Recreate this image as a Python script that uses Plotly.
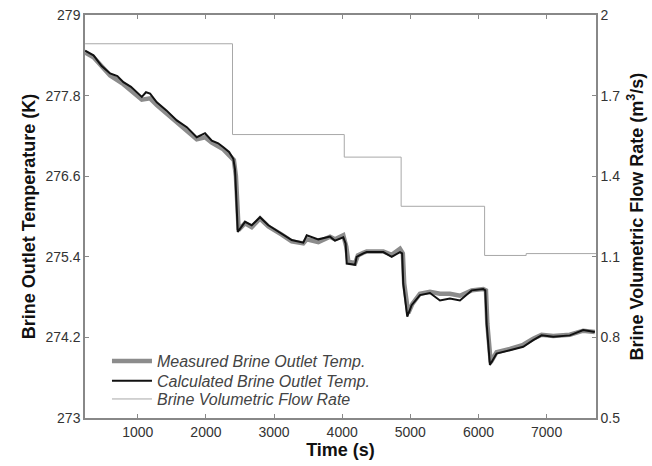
import plotly.graph_objects as go

# Time (s) and temperatures (K)
time_calc = [227, 290, 350, 470, 594, 700, 789, 900, 1059, 1120, 1180, 1279, 1420, 1572, 1720,
             1865, 1987, 2086, 2180, 2256, 2340, 2402, 2427,
             2467, 2574, 2672, 2794, 2916, 3112, 3259, 3429, 3479, 3649, 3821, 3894, 4016,
             4050, 4066, 4188, 4212, 4310, 4359, 4603, 4726, 4848, 4880, 4896, 4955, 5019,
             5141, 5288, 5435, 5581, 5728, 5900, 6070, 6100, 6120, 6168, 6266, 6461, 6657,
             6803, 6926, 7097, 7341, 7537, 7708]
temp_calc = [278.47, 278.43, 278.40, 278.24, 278.13, 278.09, 278.00, 277.93, 277.78, 277.85, 277.83,
             277.70, 277.58, 277.43, 277.33, 277.18, 277.24, 277.13, 277.09, 277.03, 276.96,
             276.86, 276.70,
             275.77, 275.92, 275.87, 275.99, 275.87, 275.75, 275.65, 275.61, 275.72, 275.66,
             275.70, 275.64, 275.69, 275.60, 275.30, 275.28, 275.40, 275.45, 275.47, 275.47,
             275.40, 275.47, 275.45, 275.00, 274.51, 274.68, 274.83, 274.86, 274.75, 274.78,
             274.75, 274.90, 274.92, 274.90, 274.40, 273.79, 273.96, 274.01, 274.06, 274.16,
             274.23, 274.21, 274.23, 274.31, 274.28]

time_meas = [227, 350, 594, 789, 1059, 1180, 1279, 1572, 1865, 1987, 2086, 2256, 2410, 2440,
             2480, 2574, 2672, 2794, 2916, 3112, 3259, 3429, 3479, 3649, 3821, 3894, 4016,
             4060, 4090, 4188, 4230, 4310, 4359, 4603, 4726, 4848, 4890, 4910, 4970, 5030,
             5141, 5288, 5435, 5581, 5728, 5900, 6070, 6110, 6130, 6180, 6266, 6461, 6657,
             6803, 6926, 7097, 7341, 7537, 7708]
temp_meas = [278.44, 278.37, 278.10, 277.97, 277.74, 277.76, 277.66, 277.41, 277.15, 277.18,
             277.10, 277.00, 276.84, 276.60, 275.80, 275.90, 275.84, 275.97, 275.85, 275.73,
             275.63, 275.60, 275.66, 275.62, 275.70, 275.66, 275.72, 275.55, 275.33, 275.30,
             275.42, 275.46, 275.48, 275.48, 275.43, 275.52, 275.45, 275.00, 274.56, 274.70,
             274.85, 274.88, 274.85, 274.85, 274.82, 274.90, 274.92, 274.90, 274.40, 273.83,
             273.98, 274.03, 274.09, 274.18, 274.24, 274.22, 274.24, 274.30, 274.28]

# Brine volumetric flow rate (m3/s), step changes
time_flow = [227, 2390, 4030, 4865, 6090, 6700, 7725]
flow_rate = [1.893, 1.555, 1.471, 1.288, 1.105, 1.112, 1.112]

left_ticks = [273, 274.2, 275.4, 276.6, 277.8, 279]
right_ticks = [0.5, 0.8, 1.1, 1.4, 1.7, 2]
x_ticks = [1000, 2000, 3000, 4000, 5000, 6000, 7000]

font_family = "Liberation Sans, Arial, sans-serif"

fig = go.Figure()
fig.add_trace(go.Scatter(x=time_meas, y=temp_meas, mode="lines",
                         name="Measured Brine Outlet Temp.", legend="legend",
                         line=dict(color="#8c8c8c", width=4.5)))
fig.add_trace(go.Scatter(x=time_calc, y=temp_calc, mode="lines",
                         name="Calculated Brine Outlet Temp.", legend="legend2",
                         line=dict(color="#111111", width=2)))
fig.add_trace(go.Scatter(x=time_flow, y=flow_rate, mode="lines", line_shape="hv",
                         name="Brine Volumetric Flow Rate", yaxis="y2", legend="legend3",
                         line=dict(color="#a8a8a8", width=1)))

axis_common = dict(showline=True, linecolor="#888888", linewidth=1.5, ticks="inside",
                   ticklen=4, tickcolor="#888888", showgrid=False, zeroline=False,
                   automargin=False,
                   tickfont=dict(family=font_family, size=14, color="#333333"))

legend_common = dict(x=0.043, xanchor="left", yanchor="middle",
                     bgcolor="rgba(0,0,0,0)", borderwidth=0,
                     font=dict(family=font_family, size=16, color="#444444", style="italic"),
                     itemwidth=40)

fig.update_layout(
    width=652, height=466,
    margin=dict(l=85, r=56, t=15, b=48),
    paper_bgcolor="white", plot_bgcolor="white",
    font=dict(family=font_family, color="#222222"),
    showlegend=True,
    legend=dict(y=0.141, **legend_common),
    legend2=dict(y=0.092, **legend_common),
    legend3=dict(y=0.047, **legend_common),
    xaxis=dict(range=[225, 7725], tickvals=x_ticks, mirror="ticks",
               title=dict(text="<b>Time (s)</b>", font=dict(size=18, color="#111111"), standoff=2),
               **axis_common),
    yaxis=dict(range=[273, 279], tickvals=left_ticks,
               ticktext=[f"{v:g}" for v in left_ticks],
               title=dict(text="<b>Brine Outlet Temperature (K)</b>",
                          font=dict(size=18, color="#111111"), standoff=5),
               **axis_common),
    yaxis2=dict(range=[0.5, 2], tickvals=right_ticks,
                ticktext=[f"{v:g}" for v in right_ticks],
                overlaying="y", side="right",
                title=dict(text="<b>Brine Volumetric Flow Rate (m<sup>3</sup>/s)</b>",
                           font=dict(size=18, color="#111111"), standoff=11),
                **axis_common),
)

fig.write_html("out.html", config={"displayModeBar": False},
               post_script="document.body.style.margin='0';document.body.style.padding='0';")
